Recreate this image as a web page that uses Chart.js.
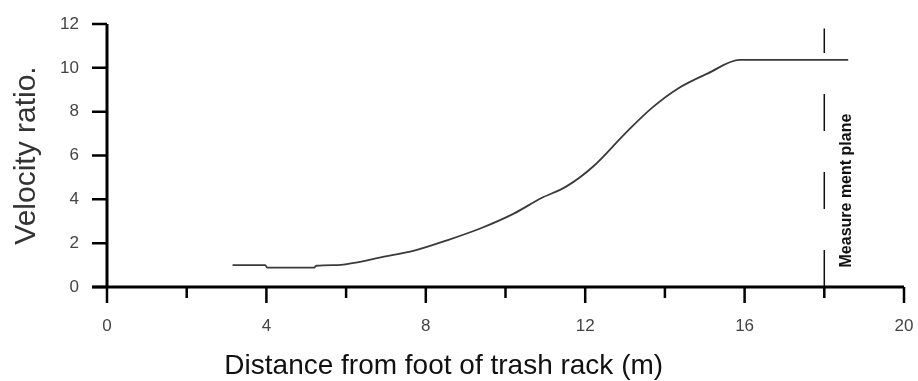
<!DOCTYPE html>
<html>
<head>
<meta charset="utf-8">
<script src="https://cdn.jsdelivr.net/npm/chart.js@4/dist/chart.umd.min.js"></script>
<style>
  html, body { margin: 0; padding: 0; background: #fff; }
  #wrap { width: 918px; height: 381px; }
</style>
</head>
<body>
<div id="wrap"><canvas id="chart"></canvas></div>
<script>
// === Data ===
const distance = [3.15, 3.97, 4.02, 5.2, 5.25, 5.8, 6.2, 6.87, 7.71, 8.55, 9.38, 10.22, 10.89, 11.52, 12.2, 13.0, 13.66, 14.33, 15.08, 15.88, 18.6];
const velocityRatio = [1.0, 1.0, 0.88, 0.88, 0.97, 1.0, 1.1, 1.35, 1.66, 2.14, 2.68, 3.36, 4.05, 4.58, 5.5, 7.0, 8.15, 9.06, 9.75, 10.36, 10.36];

const planeX = [18, 18];
const planeY = [0, 11.8];

const xTicks = [0, 4, 8, 12, 16, 20];
const xMinorTicks = [2, 6, 10, 14, 18];
const yTicks = [0, 2, 4, 6, 8, 10, 12];

const xTitle = 'Distance from foot of trash rack (m)';

// axes drawn by hand: long ticks on labelled values, short ones between
const axesPlugin = {
  id: 'axes',
  afterDatasetsDraw(chart) {
    const { ctx, scales: { x, y } } = chart;
    const x0 = x.getPixelForValue(0);
    const y0 = y.getPixelForValue(0);
    ctx.save();
    ctx.strokeStyle = '#000';
    ctx.lineCap = 'butt';

    ctx.lineWidth = 3;
    ctx.beginPath();
    ctx.moveTo(x0, y.getPixelForValue(12));
    ctx.lineTo(x0, y0);
    ctx.moveTo(x0 - 15, y0);
    ctx.lineTo(x.getPixelForValue(20), y0);
    ctx.stroke();

    ctx.lineWidth = 2.5;
    ctx.beginPath();
    yTicks.forEach(v => {
      const py = y.getPixelForValue(v);
      ctx.moveTo(x0 - 15, py);
      ctx.lineTo(x0, py);
    });
    xTicks.forEach(v => {
      const px = x.getPixelForValue(v);
      ctx.moveTo(px, y0);
      ctx.lineTo(px, y0 + 16);
    });
    xMinorTicks.forEach(v => {
      const px = x.getPixelForValue(v);
      ctx.moveTo(px, y0);
      ctx.lineTo(px, y0 + 11);
    });
    ctx.stroke();

    // x title sits left of the axis centre in the original
    ctx.fillStyle = '#111';
    ctx.font = '28px "Liberation Sans", Arial, sans-serif';
    ctx.textAlign = 'center';
    ctx.textBaseline = 'middle';
    ctx.fillText(xTitle, x.getPixelForValue(8.45), 366);

    // label beside the measurement plane
    const lx = x.getPixelForValue(18.55);
    const ly = y.getPixelForValue(4.4);
    ctx.translate(lx, ly);
    ctx.rotate(-Math.PI / 2);
    ctx.font = 'bold 16px "Liberation Sans", Arial, sans-serif';
    ctx.fillText('Measure ment plane', 0, 0);
    ctx.restore();
  }
};

const ctx = document.getElementById('chart').getContext('2d');
new Chart(ctx, {
  type: 'scatter',
  data: {
    datasets: [{
      data: distance.map((d, i) => ({ x: d, y: velocityRatio[i] })),
      showLine: true,
      borderColor: '#3a3a3a',
      borderWidth: 1.8,
      pointRadius: 0,
      cubicInterpolationMode: 'monotone'
    }, {
      data: planeX.map((d, i) => ({ x: d, y: planeY[i] })),
      showLine: true,
      borderColor: '#111',
      borderWidth: 1.5,
      borderDash: [37, 41],
      pointRadius: 0
    }]
  },
  options: {
    responsive: true,
    maintainAspectRatio: false,
    animation: false,
    devicePixelRatio: 1,
    layout: { padding: { left: 0, right: 14, top: 24, bottom: 0 } },
    plugins: { legend: { display: false }, tooltip: { enabled: false } },
    scales: {
      x: {
        type: 'linear',
        min: 0,
        max: 20,
        afterFit(scale) {
          scale.height = 94;
          scale.paddingLeft = 0;
          scale.paddingRight = 0;
        },
        afterBuildTicks(scale) { scale.ticks = xTicks.map(v => ({ value: v })); },
        grid: { display: false, drawTicks: false },
        border: { display: false },
        ticks: {
          padding: 29,
          color: '#444',
          font: { family: '"Liberation Sans", Arial, sans-serif', size: 17 }
        },
        title: { display: false }
      },
      y: {
        min: 0,
        max: 12,
        afterFit(scale) {
          scale.width = 107;
          scale.paddingTop = 0;
          scale.paddingBottom = 0;
        },
        afterBuildTicks(scale) { scale.ticks = yTicks.map(v => ({ value: v })); },
        grid: { display: false, drawTicks: false },
        border: { display: false },
        ticks: {
          padding: 28,
          color: '#444',
          font: { family: '"Liberation Sans", Arial, sans-serif', size: 17 }
        },
        title: {
          display: true,
          text: 'Velocity ratio.',
          color: '#333',
          padding: { top: 9, bottom: 0 },
          font: { family: '"Liberation Sans", Arial, sans-serif', size: 30 }
        }
      }
    }
  },
  plugins: [axesPlugin]
});
</script>
</body>
</html>
